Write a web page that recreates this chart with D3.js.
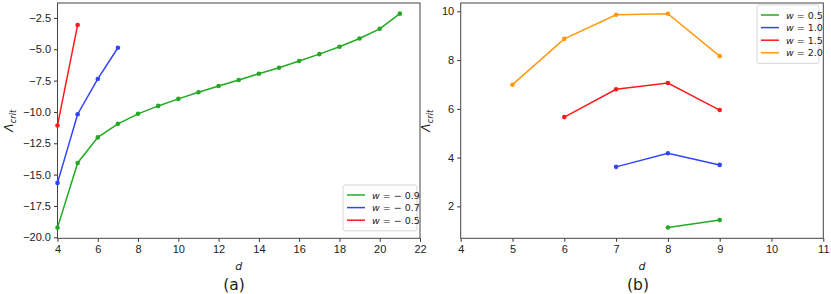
<!DOCTYPE html>
<html>
<head>
<meta charset="utf-8">
<script src="https://cdn.jsdelivr.net/npm/d3@7"></script>
<style>
  body { margin: 0; background: #fff; }
  svg { display: block; font-family: "DejaVu Sans", sans-serif; }
</style>
</head>
<body>
<svg width="831" height="294"></svg>
<script>
// panel (a): w < 0
const dA = [4, 5, 6, 7, 8, 9, 10, 11, 12, 13, 14, 15, 16, 17, 18, 19, 20, 21];
const wm09 = [-19.23, -14.07, -12.03, -10.95, -10.15, -9.52, -8.96, -8.43, -7.93, -7.45, -6.95, -6.47, -5.94, -5.39, -4.80, -4.14, -3.37, -2.16];
const wm07 = [-15.66, -10.18, -7.37, -4.88];
const wm05 = [-11.08, -3.06];
const ticksA_x = [4, 6, 8, 10, 12, 14, 16, 18, 20, 22];
const ticksA_y = [-20, -17.5, -15, -12.5, -10, -7.5, -5, -2.5];

// panel (b): w > 0
const w05 = [[8, 1.13], [9, 1.44]];
const w10 = [[7, 3.62], [8, 4.18], [9, 3.70]];
const w15 = [[6, 5.66], [7, 6.80], [8, 7.06], [9, 5.95]];
const w20 = [[5, 6.99], [6, 8.87], [7, 9.86], [8, 9.90], [9, 8.16]];
const ticksB_x = [4, 5, 6, 7, 8, 9, 10, 11];
const ticksB_y = [2, 4, 6, 8, 10];

const green = "#22aa22", blue = "#3344ff", red = "#ff1a1a", orange = "#ff9a10";

const seriesA = [
  { label: "\u2212 0.9", color: green, pts: wm09.map((v, i) => [dA[i], v]) },
  { label: "\u2212 0.7", color: blue, pts: wm07.map((v, i) => [dA[i], v]) },
  { label: "\u2212 0.5", color: red, pts: wm05.map((v, i) => [dA[i], v]) }
];
const seriesB = [
  { label: "0.5", color: green, pts: w05 },
  { label: "1.0", color: blue, pts: w10 },
  { label: "1.5", color: red, pts: w15 },
  { label: "2.0", color: orange, pts: w20 }
];

const svg = d3.select("svg");

function panel(opt) {
  const x = d3.scaleLinear().domain(opt.xdom).range([opt.left, opt.right]);
  const y = d3.scaleLinear().domain(opt.ydom).range([opt.bottom, opt.top]);
  const g = svg.append("g");

  const xAxis = g.append("g")
    .attr("transform", `translate(0,${opt.bottom})`)
    .call(d3.axisBottom(x).tickValues(opt.xticks).tickSize(3.5).tickPadding(3).tickFormat(d3.format("d")));
  const yAxis = g.append("g")
    .attr("transform", `translate(${opt.left},0)`)
    .call(d3.axisLeft(y).tickValues(opt.yticks).tickSize(3.5).tickPadding(3).tickFormat(opt.yfmt));
  [xAxis, yAxis].forEach(a => {
    a.select(".domain").remove();
    a.selectAll("text").attr("font-size", 11).attr("fill", "#222")
      .text(function () { return this.textContent.replace("-", "\u2212"); });
    a.selectAll("line").attr("stroke", "#333");
  });

  g.append("rect")
    .attr("x", opt.left).attr("y", opt.top)
    .attr("width", opt.right - opt.left).attr("height", opt.bottom - opt.top)
    .attr("fill", "none").attr("stroke", "#444").attr("stroke-width", 1);

  const line = d3.line().x(d => x(d[0])).y(d => y(d[1]));
  opt.series.forEach(s => {
    g.append("path").datum(s.pts)
      .attr("d", line).attr("fill", "none")
      .attr("stroke", s.color).attr("stroke-width", 1.5);
    g.selectAll(null).data(s.pts).enter().append("circle")
      .attr("cx", d => x(d[0])).attr("cy", d => y(d[1]))
      .attr("r", 2.3).attr("fill", s.color);
  });

  // axis labels
  const yl = g.append("text")
    .attr("transform", `translate(${opt.ylabX},${(opt.top + opt.bottom) / 2}) rotate(-90)`)
    .attr("text-anchor", "middle").attr("font-size", 12).attr("fill", "#222");
  yl.append("tspan").attr("font-style", "italic").text("\u039b");
  yl.append("tspan").attr("font-size", 8.5).attr("font-style", "italic").attr("dy", 3).text("crit");

  g.append("text")
    .attr("x", (opt.left + opt.right) / 2).attr("y", 270)
    .attr("text-anchor", "middle").attr("font-size", 11).attr("font-style", "italic")
    .attr("fill", "#222").text("d");

  g.append("text")
    .attr("x", opt.capX).attr("y", 290)
    .attr("text-anchor", "middle").attr("font-size", 15.5).attr("fill", "#222")
    .text(opt.caption);

  // legend
  const lg = g.append("g");
  const n = opt.series.length;
  lg.append("rect")
    .attr("x", opt.legX).attr("y", opt.legY)
    .attr("width", opt.legW).attr("height", 8 + n * 12.6)
    .attr("rx", 2).attr("fill", "#fff").attr("fill-opacity", 0.8)
    .attr("stroke", "#d8d8d8").attr("stroke-width", 1);
  opt.series.forEach((s, i) => {
    const cy = opt.legY + 10 + i * 12.6;
    lg.append("line")
      .attr("x1", opt.legX + 4).attr("x2", opt.legX + 22)
      .attr("y1", cy).attr("y2", cy)
      .attr("stroke", s.color).attr("stroke-width", 1.5);
    const t = lg.append("text")
      .attr("x", opt.legX + 29).attr("y", cy + 3.5)
      .attr("font-size", 9.5).attr("fill", "#222");
    t.append("tspan").attr("font-style", "italic").text("w");
    t.append("tspan").text(" = " + s.label);
  });
}

panel({
  left: 57.5, right: 420, top: 3, bottom: 238.3,
  xdom: [4, 22], ydom: [-20.08, -1.31],
  xticks: ticksA_x, yticks: ticksA_y, yfmt: d3.format(".1f"),
  series: seriesA, ylabX: 13, capX: 234, caption: "(a)",
  legX: 343, legY: 185, legW: 74
});

panel({
  left: 460.7, right: 823.3, top: 3, bottom: 238.3,
  xdom: [4, 11], ydom: [0.69, 10.34],
  xticks: ticksB_x, yticks: ticksB_y, yfmt: d3.format("d"),
  series: seriesB, ylabX: 430, capX: 638, caption: "(b)",
  legX: 757, legY: 5, legW: 62
});
</script>
</body>
</html>
